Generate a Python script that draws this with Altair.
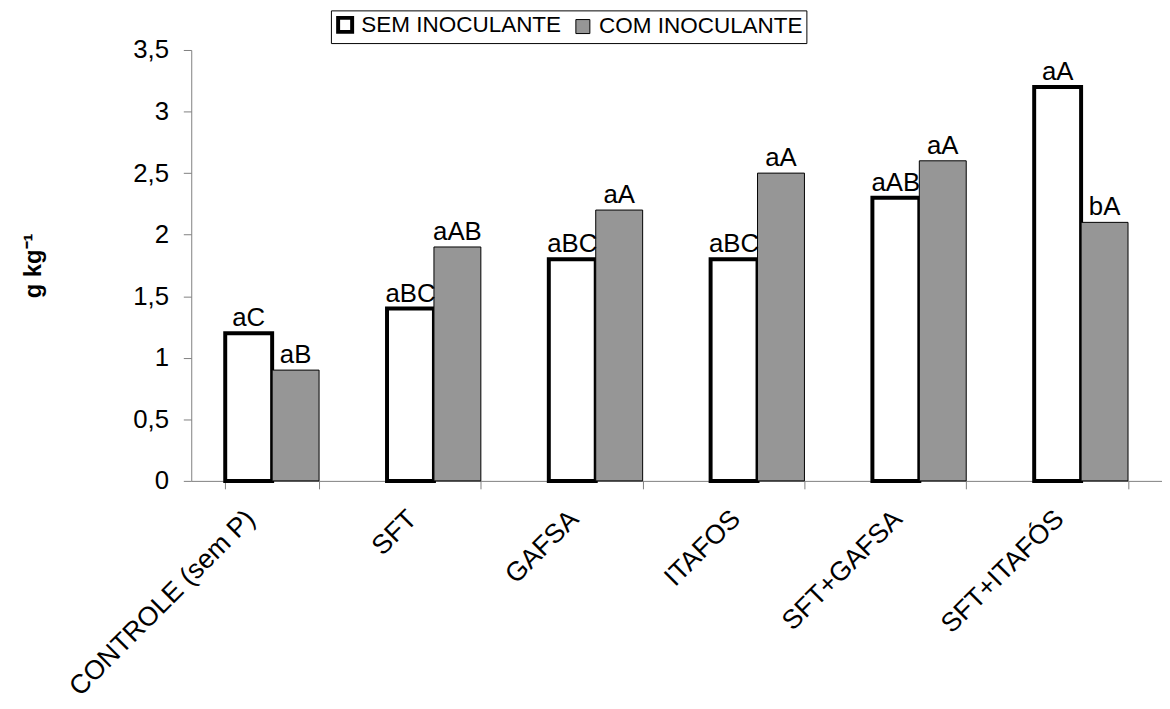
import altair as alt
import pandas as pd

categories = ["CONTROLE (sem P)", "SFT", "GAFSA", "ITAFOS", "SFT+GAFSA", "SFT+ITAFÓS"]
series = ["SEM INOCULANTE", "COM INOCULANTE"]
sem_values = [1.2, 1.4, 1.8, 1.8, 2.3, 3.2]
com_values = [0.9, 1.9, 2.2, 2.5, 2.6, 2.1]
sem_labels = ["aC", "aBC", "aBC", "aBC", "aAB", "aA"]
com_labels = ["aB", "aAB", "aA", "aA", "aA", "bA"]
y_ticks = [0, 0.5, 1, 1.5, 2, 2.5, 3, 3.5]

rows = []
for c, v, l in zip(categories, sem_values, sem_labels):
    rows.append({"cat": c, "serie": series[0], "valor": v, "letra": l})
for c, v, l in zip(categories, com_values, com_labels):
    rows.append({"cat": c, "serie": series[1], "valor": v, "letra": l})
df = pd.DataFrame(rows)

FONT = "Liberation Sans"
AXIS_GRAY = "#808080"

x = alt.X("cat:N", sort=categories, title=None,
          scale=alt.Scale(paddingInner=0.42, paddingOuter=0.21),
          axis=alt.Axis(labelAngle=-45, labelAlign="right", labelBaseline="middle",
                        labelFontSize=27, labelFont=FONT, labelColor="black",
                        labelPadding=26, labelOffset=-22, labelLimit=500,
                        labelOverlap=False,
                        tickBand="extent", tickSize=8, tickColor=AXIS_GRAY,
                        domainColor=AXIS_GRAY, grid=False))
xo = alt.XOffset("serie:N", sort=series, scale=alt.Scale(paddingInner=0, paddingOuter=0))
y = alt.Y("valor:Q", title="g kg⁻¹",
          scale=alt.Scale(domain=[0, 3.5], nice=False),
          axis=alt.Axis(values=y_ticks,
                        labelExpr="replace(toString(datum.value), '.', ',')",
                        labelFontSize=26, labelFont=FONT, labelColor="black",
                        labelPadding=15, tickSize=8, tickColor=AXIS_GRAY,
                        domainColor=AXIS_GRAY, grid=False,
                        titleFont=FONT, titleFontSize=24, titleFontWeight="bold",
                        titleColor="black", titlePadding=88))

bars = alt.Chart(df).mark_bar(stroke="black").encode(
    x=x, xOffset=xo, y=y,
    fill=alt.Fill("serie:N", sort=series, title=None,
                  scale=alt.Scale(domain=series, range=["white", "#969696"]),
                  legend=alt.Legend(orient="none", legendX=141, legendY=-40,
                                    direction="horizontal", strokeColor="black",
                                    padding=3, labelFontSize=22.7, labelFont=FONT,
                                    labelColor="black", symbolType="square",
                                    symbolSize=200, symbolStrokeColor="black",
                                    columnPadding=10, labelOffset=5,
                                    labelLimit=500)),
    strokeWidth=alt.StrokeWidth("serie:N", sort=series, title=None,
                                scale=alt.Scale(domain=series, range=[4, 1]),
                                legend=alt.Legend(orient="none", legendX=141, legendY=-40,
                                                  direction="horizontal"))
)

text = alt.Chart(df).mark_text(baseline="alphabetic", dy=-7, fontSize=26, font=FONT,
                               color="black").encode(
    x=alt.X("cat:N", sort=categories),
    xOffset=alt.XOffset("serie:N", sort=series),
    y="valor:Q",
    text="letra:N",
)

chart = alt.layer(bars, text).properties(
    width=980, height=435,
    autosize=alt.AutoSizeParams(type="none"),
    padding={"left": 185, "top": 39, "right": 0, "bottom": 240},
).configure_view(stroke=None)

chart.save("out.html", embed_options={"renderer": "svg", "actions": False})
